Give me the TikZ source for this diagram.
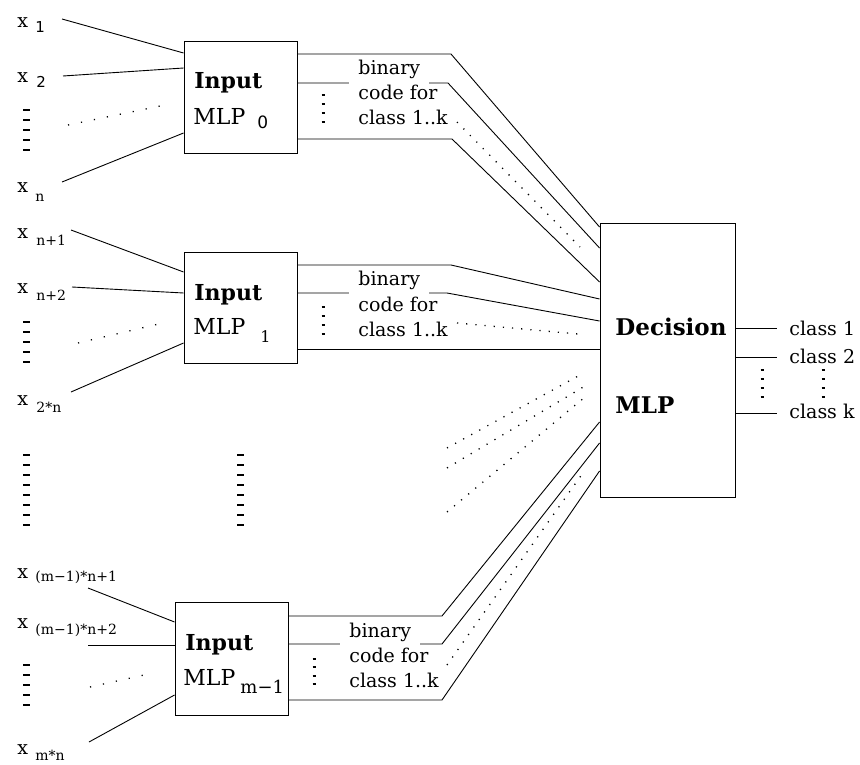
\documentclass[tikz,border=0pt]{standalone}
\usepackage{fontspec}
\setmainfont{DejaVu Serif}
\newfontfamily\subsans{DejaVu Sans}
\begin{document}
\begin{tikzpicture}[x=1pt,y=-1pt, line width=0.9pt,
  mbox/.style={draw, inner sep=0pt},
  lbl/.style={font=\fontsize{19}{22}\selectfont, inner sep=0pt, anchor=base west},
  subx/.style={font=\fontsize{14}{16}\selectfont, inner sep=0pt, anchor=base west},
  ssub/.style={font=\subsans\fontsize{15}{17}\selectfont, inner sep=0pt, anchor=base west},
  ttl/.style={font=\bfseries\fontsize{22}{26}\selectfont, inner sep=0pt, anchor=base west},
  mlp/.style={font=\fontsize{22}{26}\selectfont, inner sep=0pt, anchor=base west},
  codetxt/.style={font=\fontsize{19}{22}\selectfont, inner sep=0pt, anchor=base west},
  gapcode/.style={codetxt, fill=white, inner xsep=9pt, inner ysep=5pt},
  dectxt/.style={font=\bfseries\fontsize{23}{27}\selectfont, inner sep=0pt, anchor=base west},
  idots/.style={line width=1.3pt, dash pattern=on 1.2pt off 12pt},
  fdots/.style={line width=1.3pt, dash pattern=on 1.2pt off 8pt},
  tick/.style={line width=1.4pt},
  stick/.style={line width=1.4pt},
]
\useasboundingbox (0,0) rectangle (860,765);

% boxes
\node[mbox, minimum width=113pt, minimum height=112pt] (b0) at (240.5,97) {};
\node[mbox, minimum width=113pt, minimum height=111pt] (b1) at (240.5,307.5) {};
\node[mbox, minimum width=113pt, minimum height=113pt] (b2) at (231.5,658.5) {};
\node[mbox, minimum width=135pt, minimum height=274pt] (dec) at (667.5,360) {};

% input free ends
\coordinate (i0a) at (62,19);  \coordinate (i0b) at (63,76);
\coordinate (i0d1) at (68,125); \coordinate (i0d2) at (165,105);
\coordinate (i0c) at (62,182);
\coordinate (i1a) at (71,230);  \coordinate (i1b) at (72,287);
\coordinate (i1d1) at (78,343); \coordinate (i1d2) at (163,323);
\coordinate (i1c) at (71,392);
\coordinate (i2a) at (88,588);  \coordinate (i2b) at (88,645);
\coordinate (i2d1) at (90,687); \coordinate (i2d2) at (153,673);
\coordinate (i2c) at (89,742);

\draw (i0a) -- (b0.west |- 0,53);
\draw (i0b) -- (b0.west |- 0,68);
\draw[idots] (i0d1) -- (i0d2);
\draw (i0c) -- (b0.west |- 0,133);
\draw (i1a) -- (b1.west |- 0,272);
\draw (i1b) -- (b1.west |- 0,293);
\draw[idots] (i1d1) -- (i1d2);
\draw (i1c) -- (b1.west |- 0,343);
\draw (i2a) -- (b2.west |- 0,622);
\draw (i2b) -- (b2.west |- 0,645);
\draw[idots] (i2d1) -- (i2d2);
\draw (i2c) -- (b2.west |- 0,695);

% bends
\coordinate (k0a) at (451,54);  \coordinate (k0b) at (448,83);  \coordinate (k0c) at (452,139);
\coordinate (k1a) at (451,265); \coordinate (k1b) at (447,293);
\coordinate (k2a) at (442,616); \coordinate (k2b) at (442,644); \coordinate (k2c) at (442,700);

% outputs of box 0
\draw (b0.east |- k0a) -- (k0a) -- (dec.west |- 0,227);
\draw (b0.east |- k0b) -- (k0b) -- (dec.west |- 0,248);
\draw (b0.east |- k0c) -- (k0c) -- (dec.west |- 0,282);
\coordinate (d0a) at (457,122); \coordinate (d0b) at (580,247);
\draw[fdots] (d0a) -- (d0b);
% outputs of box 1
\draw (b1.east |- k1a) -- (k1a) -- (dec.west |- 0,299);
\draw (b1.east |- k1b) -- (k1b) -- (dec.west |- 0,321);
\draw (b1.east |- 0,349) -- (dec.west |- 0,349);
\coordinate (d1a) at (457,323); \coordinate (d1b) at (578,334);
\draw[fdots] (d1a) -- (d1b);
% outputs of box m-1
\draw (b2.east |- k2a) -- (k2a) -- (dec.west |- 0,422);
\draw (b2.east |- k2b) -- (k2b) -- (dec.west |- 0,443);
\draw (b2.east |- k2c) -- (k2c) -- (dec.west |- 0,471);
\coordinate (d2a) at (447,665); \coordinate (d2b) at (585,470);
\draw[fdots] (d2a) -- (d2b);
% fan of dotted lines
\coordinate (f1a) at (447,448); \coordinate (f1b) at (580,375);
\coordinate (f2a) at (447,468); \coordinate (f2b) at (585,386);
\coordinate (f3a) at (447,512); \coordinate (f3b) at (585,397);
\draw[fdots] (f1a) -- (f1b);
\draw[fdots] (f2a) -- (f2b);
\draw[fdots] (f3a) -- (f3b);

% decision outputs
\coordinate (o1) at (777,328); \coordinate (o2) at (777,357); \coordinate (ok) at (777,413);
\draw (dec.east |- o1) -- (o1);
\draw (dec.east |- o2) -- (o2);
\draw (dec.east |- ok) -- (ok);

% vertical dot columns
\foreach \y in {110,120,130,140,150} \draw[tick] (23,\y) -- (30,\y);
\foreach \y in {322,332,342,352,362} \draw[tick] (23,\y) -- (30,\y);
\foreach \y in {665,675,685,695,705} \draw[tick] (23,\y) -- (30,\y);
\foreach \y in {455,465,...,525} {\draw[tick] (23,\y) -- (30,\y); \draw[tick] (237,\y) -- (244,\y);}
\foreach \y in {95,104,113,122} \draw[stick] (321.5,\y) -- (325,\y);
\foreach \y in {307,316,325,334} \draw[stick] (321.5,\y) -- (325,\y);
\foreach \y in {659,667,676,684} \draw[stick] (312.5,\y) -- (316,\y);
\foreach \y in {370,379,388,397} {\draw[stick] (760.5,\y) -- (764,\y); \draw[stick] (821.5,\y) -- (825,\y);}

% input labels
\node[lbl] (lx1) at (17,28) {x};   \node[ssub] (lx1s) at (35,33) {1};
\node[lbl] (lx2) at (17,83) {x};   \node[ssub] (lx2s) at (36,88) {2};
\node[lbl] (lxn) at (17,193) {x};  \node[subx] (lxns) at (35,201) {n};
\node[lbl] (lx3) at (17,238) {x};  \node[subx] (lx3s) at (36,245) {n+1};
\node[lbl] (lx4) at (17,293) {x};  \node[subx] (lx4s) at (36,300) {n+2};
\node[lbl] (lx5) at (17,405) {x};  \node[subx] (lx5s) at (36,412) {2*n};
\node[lbl] (lx6) at (17,578) {x};  \node[subx] (lx6s) at (35,581) {(m−1)*n+1};
\node[lbl] (lx7) at (17,628) {x};  \node[subx] (lx7s) at (35,634) {(m−1)*n+2};
\node[lbl] (lx8) at (17,754) {x};  \node[subx] (lx8s) at (35,760) {m*n};

% box texts
\node[ttl] (t0) at (194,89) {Input};
\node[mlp] (m0) at (193,125) {MLP}; \node[ssub, font=\subsans\fontsize{17}{19}\selectfont] (m0s) at (257,129) {0};
\node[ttl] (t1) at (194,300) {Input};
\node[mlp] (m1) at (193,334) {MLP}; \node[subx, font=\fontsize{16}{18}\selectfont] (m1s) at (260,342) {1};
\node[ttl] (t2) at (185,650) {Input};
\node[mlp] (m2) at (183,685) {MLP}; \node[subx, font=\fontsize{18}{20}\selectfont] (m2s) at (240,693) {m−1};

% code labels
\node[gapcode] (c0a) at (349,75) {binary};
\node[codetxt] (c0b) at (358,100) {code for};
\node[codetxt] (c0c) at (358,125) {class 1..k};
\node[gapcode] (c1a) at (349,285) {binary};
\node[codetxt] (c1b) at (358,311) {code for};
\node[codetxt] (c1c) at (358,336) {class 1..k};
\node[gapcode] (c2a) at (340,637) {binary};
\node[codetxt] (c2b) at (349,662) {code for};
\node[codetxt] (c2c) at (349,687) {class 1..k};

% decision
\node[dectxt] (dt) at (615,335) {Decision};
\node[dectxt] (dm) at (615,413) {MLP};

% classes
\node[codetxt] (cl1) at (789,335) {class 1};
\node[codetxt] (cl2) at (789,363) {class 2};
\node[codetxt] (clk) at (789,418) {class k};
\end{tikzpicture}
\end{document}
